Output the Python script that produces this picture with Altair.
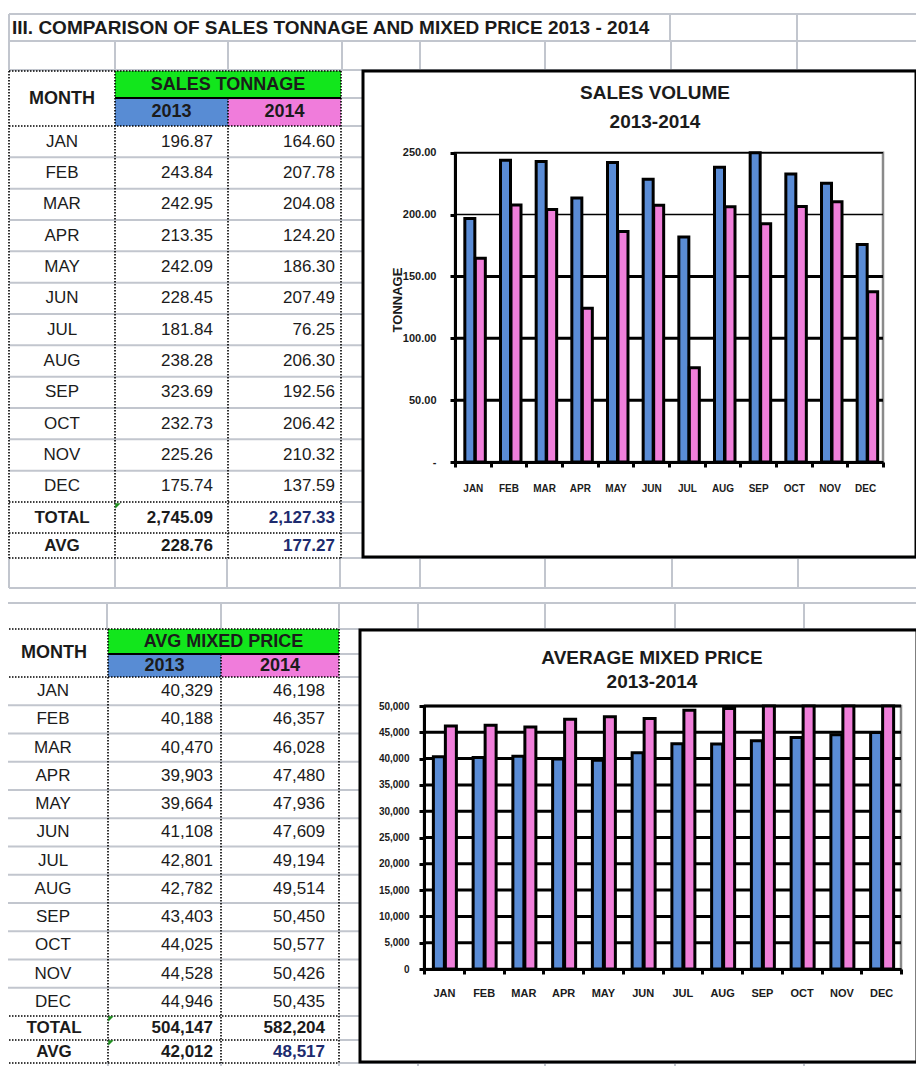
import altair as alt
import pandas as pd

# ---------------- values ----------------
MONTHS = ["JAN", "FEB", "MAR", "APR", "MAY", "JUN", "JUL", "AUG", "SEP", "OCT", "NOV", "DEC"]
YEARS = ["2013", "2014"]
TONNAGE_2013 = [196.87, 243.84, 242.95, 213.35, 242.09, 228.45, 181.84, 238.28, 323.69, 232.73, 225.26, 175.74]
TONNAGE_2014 = [164.60, 207.78, 204.08, 124.20, 186.30, 207.49, 76.25, 206.30, 192.56, 206.42, 210.32, 137.59]
TONNAGE_TOTAL = [2745.09, 2127.33]
TONNAGE_AVG = [228.76, 177.27]
PRICE_2013 = [40329, 40188, 40470, 39903, 39664, 41108, 42801, 42782, 43403, 44025, 44528, 44946]
PRICE_2014 = [46198, 46357, 46028, 47480, 47936, 47609, 49194, 49514, 50450, 50577, 50426, 50435]
PRICE_TOTAL = [504147, 582204]
PRICE_AVG = [42012, 48517]
TONNAGE_TICKS = [0, 50, 100, 150, 200, 250]
PRICE_TICKS = [0, 5000, 10000, 15000, 20000, 25000, 30000, 35000, 40000, 45000, 50000]

SHEET_TITLE = "III. COMPARISON OF SALES TONNAGE AND MIXED PRICE 2013 - 2014"
T1_HEAD = "SALES TONNAGE"
T2_HEAD = "AVG MIXED PRICE"
C1_TITLE = ["SALES VOLUME", "2013-2014"]
C2_TITLE = ["AVERAGE MIXED PRICE", "2013-2014"]
C1_YTITLE = "TONNAGE"

# ---------------- page layout (reference screen pixels) ----------------
M = 8
W, H = 908, 1058
NARROW = "Liberation Sans Narrow, Arial Narrow, Liberation Sans, Arial, sans-serif"
GRID = "#C2C6CE"
INK = "#1b1b1b"
NAVY = "#1d2b6e"
GREEN = "#12E61C"
BLUE = "#588CD4"
PINK = "#F07CDB"
BAR_BLUE = "#5A8CD6"
BAR_PINK = "#F07FDA"


def vx(x):
    return x - M


def vy(y):
    return y - M


SX = alt.Scale(domain=[M, M + W], range=[0, W], nice=False, zero=False)
SY = alt.Scale(domain=[M, M + H], range=[0, H], nice=False, zero=False)


def segments(rows, color, width, dash=None):
    df = pd.DataFrame(rows, columns=["x1", "y1", "x2", "y2"])
    kw = {"color": color, "strokeWidth": width}
    if dash:
        kw["strokeDash"] = dash
    return alt.Chart(df).mark_rule(**kw).encode(
        x=alt.X("x1:Q", scale=SX, axis=None), x2="x2:Q",
        y=alt.Y("y1:Q", scale=SY, axis=None), y2="y2:Q")


def rects(rows, **kw):
    df = pd.DataFrame(rows, columns=["x1", "y1", "x2", "y2", "fill"])
    return alt.Chart(df).mark_rect(**kw).encode(
        x=alt.X("x1:Q", scale=SX, axis=None), x2="x2:Q",
        y=alt.Y("y1:Q", scale=SY, axis=None), y2="y2:Q",
        fill=alt.Fill("fill:N", scale=None))


def texts(rows, align, size, weight="normal", angle=None):
    df = pd.DataFrame(rows, columns=["x", "y", "label", "color"])
    kw = dict(align=align, baseline="middle", font=NARROW, fontSize=size, fontWeight=weight)
    if angle is not None:
        kw["angle"] = angle
    return alt.Chart(df).mark_text(**kw).encode(
        x=alt.X("x:Q", scale=SX, axis=None), y=alt.Y("y:Q", scale=SY, axis=None),
        text="label:N", color=alt.Color("color:N", scale=None))


def h(y, x1, x2):
    return (x1, y, x2, y)


def v(x, y1, y2):
    return (x, y1, x, y2)


# table geometry
T1_ROWS = [126 + k * (502 - 126) / 12 for k in range(13)]
T2_ROWS = [677 + k * (1016 - 677) / 12 for k in range(13)]
t1_mid = [(T1_ROWS[i] + T1_ROWS[i + 1]) / 2 for i in range(12)]
t2_mid = [(T2_ROWS[i] + T2_ROWS[i + 1]) / 2 for i in range(12)]

# ---- spreadsheet grid (light gray) ----
gray = [h(14, 9, 924), h(41, 9, 924), h(70, 9, 924), h(98, 341, 924), h(126, 341, 924)]
gray += [h(y, 9, 924) for y in T1_ROWS[1:12]]
gray += [h(y, 341, 924) for y in (502, 533, 558)]
gray += [h(588, 9, 924), h(603, 0, 924), h(629, 339, 924), h(654, 339, 924), h(677, 339, 924)]
gray += [h(y, 0, 924) for y in T2_ROWS[1:12]]
gray += [h(y, 339, 924) for y in (1016, 1040, 1063)]
gray += [v(x, 14, 41) for x in (9, 670, 797, 924)]
gray += [v(x, 41, 70) for x in (9, 115, 228, 342, 420, 545, 671, 797, 924)]
gray += [v(x, 558, 588) for x in (9, 115, 227, 340, 420, 545, 672, 798, 924)]
gray += [v(x, 603, 629) for x in (0, 107, 221, 339, 418, 545, 675, 804, 924)]
gray += [v(x, 1063, 1079) for x in (108, 221, 339, 418, 545, 675, 804, 924)]

dotted = [h(y, 9, 341) for y in (71, 126, 502, 533, 558)]
dotted += [v(9, 71, 558), v(115, 71, 558), v(228, 98, 558), v(341, 71, 558)]
dotted += [h(y, 0, 339) for y in (629, 677, 1016, 1040, 1063)]
dotted += [v(108, 629, 1063), v(221, 654, 1063), v(339, 629, 1063)]

solid = [h(98, 115, 341), h(654, 108, 339)]

header_fills = [
    (115, 71, 341, 98, GREEN), (115, 98, 228, 126, BLUE), (228, 98, 341, 126, PINK),
    (108, 629, 339, 654, GREEN), (108, 654, 221, 677, BLUE), (221, 654, 339, 677, PINK),
]
boxes = [(363, 71, 916, 557, "white"), (360, 630, 917, 1062, "white")]
frames = [(455, 152.7, 883, 462, "white"), (424, 706, 901, 969, "white")]

# ---- texts ----
head_txt = [
    (62, 98.5, "MONTH", INK), (228, 84.5, T1_HEAD, INK), (171.5, 112, YEARS[0], INK), (284.5, 112, YEARS[1], INK),
    (54, 653, "MONTH", INK), (223.5, 641.5, T2_HEAD, INK), (164.5, 665.5, YEARS[0], INK), (280, 665.5, YEARS[1], INK),
]
month_txt = [(62, y, m, INK) for y, m in zip(t1_mid, MONTHS)]
month_txt += [(53, y, m, INK) for y, m in zip(t2_mid, MONTHS)]
val_txt = [(213, y, f"{val:,.2f}", INK) for y, val in zip(t1_mid, TONNAGE_2013)]
val_txt += [(335, y, f"{val:,.2f}", INK) for y, val in zip(t1_mid, TONNAGE_2014)]
val_txt += [(213, y, f"{val:,}", INK) for y, val in zip(t2_mid, PRICE_2013)]
val_txt += [(325, y, f"{val:,}", INK) for y, val in zip(t2_mid, PRICE_2014)]
sum_lbl = [(62, 517.5, "TOTAL", INK), (62, 545.5, "AVG", INK), (54, 1028, "TOTAL", INK), (54, 1051.5, "AVG", INK)]
sum_val = [
    (213, 517.5, f"{TONNAGE_TOTAL[0]:,.2f}", INK), (335, 517.5, f"{TONNAGE_TOTAL[1]:,.2f}", NAVY),
    (213, 545.5, f"{TONNAGE_AVG[0]:,.2f}", INK), (335, 545.5, f"{TONNAGE_AVG[1]:,.2f}", NAVY),
    (213, 1028, f"{PRICE_TOTAL[0]:,}", INK), (325, 1028, f"{PRICE_TOTAL[1]:,}", INK),
    (213, 1051.5, f"{PRICE_AVG[0]:,}", INK), (325, 1051.5, f"{PRICE_AVG[1]:,}", NAVY),
]
chart_titles = [(655, 93, C1_TITLE[0], INK), (655, 122, C1_TITLE[1], INK),
                (652, 658, C2_TITLE[0], INK), (652, 682, C2_TITLE[1], INK)]

flags = pd.DataFrame({"x": [118, 111, 111], "y": [506, 1019, 1043]})
flag_layer = alt.Chart(flags).mark_point(shape="M-1,-1L1,-1L-1,1Z", filled=True, size=30, color="#1f8f1f", opacity=1).encode(
    x=alt.X("x:Q", scale=SX, axis=None), y=alt.Y("y:Q", scale=SY, axis=None))

bg = alt.layer(
    segments(gray, GRID, 2),
    rects(header_fills),
    rects(boxes, stroke="black", strokeWidth=3),
    rects(frames, stroke="#8a8a8a", strokeWidth=2.5),
    segments(dotted, "black", 1.6, dash=[1.5, 1.5]),
    segments(solid, "black", 2),
    flag_layer,
    texts([(12, 27.5, SHEET_TITLE, INK)], "left", 19, "bold"),
    texts(head_txt, "center", 18, "bold"),
    texts(month_txt, "center", 17),
    texts(val_txt, "right", 17),
    texts(sum_lbl, "center", 17, "bold"),
    texts(sum_val, "right", 17, "bold"),
    texts(chart_titles, "center", 19, "bold"),
    texts([(398, 300, C1_YTITLE, INK)], "center", 13, "bold", angle=270),
)

AX = dict(zindex=1, domainColor="black", domainWidth=3, tickColor="black", tickWidth=3, tickSize=5,
          labelFont=NARROW, labelFontWeight="bold", labelColor=INK, labelOverlap=False, grid=False, title=None)

# ---------------- chart 1: sales volume ----------------
ton_df = pd.DataFrame({"month": MONTHS * 2, "year": [YEARS[0]] * 12 + [YEARS[1]] * 12,
                       "value": TONNAGE_2013 + TONNAGE_2014})
X1 = alt.X("month:N", scale=alt.Scale(domain=MONTHS, range=[vx(455), vx(883)], paddingInner=0, paddingOuter=0),
           axis=alt.Axis(orient="bottom", offset=vy(462) - H, labelAngle=0, labelFontSize=10, labelPadding=16,
                         tickBand="extent", **AX))
Y1 = alt.Y("value:Q", scale=alt.Scale(domain=[0, 250], range=[vy(462), vy(152.7)], clamp=True, nice=False, zero=True),
           axis=alt.Axis(orient="left", offset=-vx(455), values=TONNAGE_TICKS, labelFontSize=11, labelPadding=14,
                         labelExpr="datum.value == 0 ? '-' : format(datum.value, '.2f')", **AX))
grid1 = alt.Chart(pd.DataFrame({"value": TONNAGE_TICKS[1:]})).mark_rule(color="black").encode(
    y=Y1, x=alt.value(vx(455)), x2=alt.value(vx(883)),
    strokeWidth=alt.condition(alt.datum.value >= 200, alt.value(1.5), alt.value(3)))
b13 = alt.Chart(ton_df).transform_filter(alt.datum.year == YEARS[0]).mark_bar(
    width=10, xOffset=-3, fill=BAR_BLUE, stroke="black", strokeWidth=3).encode(x=X1, y=Y1)
b14 = alt.Chart(ton_df).transform_filter(alt.datum.year == YEARS[1]).mark_bar(
    width=10, xOffset=7.5, fill=BAR_PINK, stroke="black", strokeWidth=3).encode(x=X1, y=Y1)
chart1 = alt.layer(grid1, b13, b14)

# ---------------- chart 2: average mixed price ----------------
price_df = pd.DataFrame({"month": MONTHS * 2, "year": [YEARS[0]] * 12 + [YEARS[1]] * 12,
                         "value": PRICE_2013 + PRICE_2014})
X2 = alt.X("month:N", scale=alt.Scale(domain=MONTHS, range=[vx(424), vx(901)], paddingInner=0, paddingOuter=0),
           axis=alt.Axis(orient="bottom", offset=vy(969) - H, labelAngle=0, labelFontSize=11, labelPadding=13,
                         tickBand="extent", **AX))
Y2 = alt.Y("value:Q", scale=alt.Scale(domain=[0, 50000], range=[vy(969), vy(706)], clamp=True, nice=False, zero=True),
           axis=alt.Axis(orient="left", offset=-vx(424), values=PRICE_TICKS, format=",d", labelFontSize=10,
                         labelPadding=10, **AX))
grid2 = alt.Chart(pd.DataFrame({"value": PRICE_TICKS[1:]})).mark_rule(color="black", strokeWidth=3).encode(
    y=Y2, x=alt.value(vx(424)), x2=alt.value(vx(901)))
p13 = alt.Chart(price_df).transform_filter(alt.datum.year == YEARS[0]).mark_bar(
    width=11, xOffset=-5, fill=BAR_BLUE, stroke="black", strokeWidth=3).encode(x=X2, y=Y2)
p14 = alt.Chart(price_df).transform_filter(alt.datum.year == YEARS[1]).mark_bar(
    width=11, xOffset=7, fill=BAR_PINK, stroke="black", strokeWidth=3).encode(x=X2, y=Y2)
chart2 = alt.layer(grid2, p13, p14)

chart = alt.layer(bg, chart1, chart2).resolve_scale(x="independent", y="independent").properties(
    width=W, height=H, padding=0, autosize=alt.AutoSizeParams(type="none")
).configure_view(strokeWidth=0)

chart.save("out.html", embed_options={"renderer": "svg", "actions": False})
